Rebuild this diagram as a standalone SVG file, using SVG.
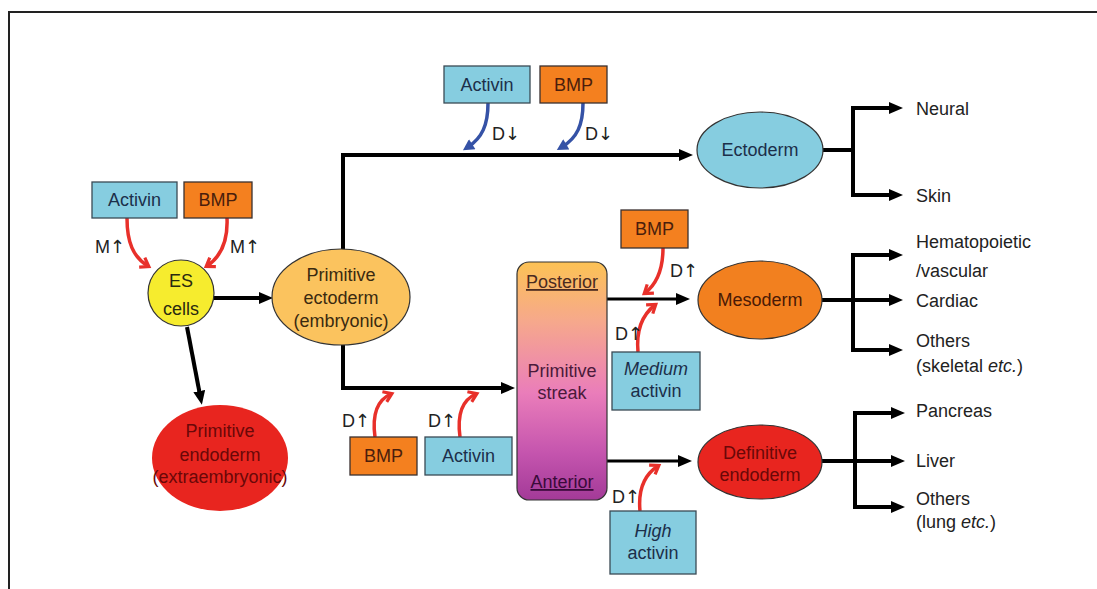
<svg xmlns="http://www.w3.org/2000/svg" width="1097" height="589" viewBox="0 0 1097 589">
<style>
text{font-family:"Liberation Sans",Arial,sans-serif;font-size:18px;}
.c{text-anchor:middle;}
.lbl{fill:#222;}
.ar{font-family:"DejaVu Sans",sans-serif;font-size:18px;}
.blue{fill:#86cde0;stroke:#3a4a55;stroke-width:1.3;}
.org{fill:#f4801f;stroke:#3a3030;stroke-width:1.3;}
.tb{fill:#1c2f4a;}
.to{fill:#4a1e0c;}
.blk{fill:none;stroke:#000;stroke-width:4;stroke-linejoin:miter;}
.ba{marker-end:url(#ah);}
.red{fill:none;stroke:#e8302a;stroke-width:3.5;marker-end:url(#rh);}
.bl{fill:none;stroke:#3552a6;stroke-width:3.5;marker-end:url(#bh);}
.edge{stroke:#333;stroke-width:1.2;}
</style>
<defs>
<marker id="ah" markerUnits="userSpaceOnUse" markerWidth="14" markerHeight="12" viewBox="0 0 14 12" refX="4" refY="6" orient="auto"><path d="M0,0 L14,6 L0,12 z" fill="#000"/></marker>
<marker id="rh" markerUnits="userSpaceOnUse" markerWidth="14" markerHeight="14" viewBox="0 0 14 14" refX="9" refY="7" orient="auto"><path d="M2,1.5 L10,7 L2,12.5" fill="none" stroke="#e8302a" stroke-width="3.2"/></marker>
<marker id="bh" markerUnits="userSpaceOnUse" markerWidth="12" markerHeight="12" viewBox="0 0 12 12" refX="6" refY="6" orient="auto"><path d="M1,0 L12,6 L1,12 z" fill="#3552a6"/></marker>
<linearGradient id="ps" x1="0" y1="0" x2="0" y2="1">
<stop offset="0" stop-color="#fcc255"/>
<stop offset="0.25" stop-color="#f6a88c"/>
<stop offset="0.55" stop-color="#ea7dba"/>
<stop offset="0.8" stop-color="#c555ae"/>
<stop offset="1" stop-color="#a33a98"/>
</linearGradient>
</defs>
<rect width="1097" height="589" fill="#fff"/>
<path d="M9,589 V12 H1097" fill="none" stroke="#222" stroke-width="2"/>

<g id="connectors">
<path class="blk ba" d="M213,298 H263"/>
<path class="blk ba" d="M187,327 L200,395"/>
<path class="blk ba" d="M343,250 V155 H683"/>
<path class="blk ba" d="M343,345 V388 H505"/>
<path class="blk" d="M823,150 H853"/>
<path class="blk ba" d="M853,150 V108 H893"/>
<path class="blk ba" d="M853,150 V195 H893"/>
<path class="blk ba" d="M822,300 H893"/>
<path class="blk ba" d="M853,300 V255 H893"/>
<path class="blk ba" d="M853,300 V350 H893"/>
<path class="blk ba" d="M822,461 H895"/>
<path class="blk ba" d="M855,461 V413 H895"/>
<path class="blk ba" d="M855,461 V507 H895"/>
<path class="blk ba" style="stroke-width:3" d="M607,299 H680"/>
<path class="blk ba" style="stroke-width:3" d="M607,461 H682"/>
<path class="red" d="M127,218 C127,242 133,257 148,266"/>
<path class="red" d="M227,218 C228,240 222,256 207,266"/>
<path class="red" d="M375,437 C372,415 377,400 391,394"/>
<path class="red" d="M460,437 C457,415 462,400 476,394"/>
<path class="red" d="M663,248 C663,268 658,283 645,293"/>
<path class="red" d="M638,352 C636,330 642,315 655,305"/>
<path class="red" d="M640,511 C638,490 644,475 658,466"/>
<path class="bl" d="M488,103 C488,125 482,138 468,147"/>
<path class="bl" d="M583,103 C583,125 577,138 562,147"/>
<text class="lbl" x="95" y="253">M<tspan class="ar">↑</tspan></text>
<text class="lbl" x="230" y="253">M<tspan class="ar">↑</tspan></text>
<text class="lbl" x="492" y="140">D<tspan class="ar">↓</tspan></text>
<text class="lbl" x="585" y="140">D<tspan class="ar">↓</tspan></text>
<text class="lbl" x="342" y="427">D<tspan class="ar">↑</tspan></text>
<text class="lbl" x="428" y="427">D<tspan class="ar">↑</tspan></text>
<text class="lbl" x="670" y="277">D<tspan class="ar">↑</tspan></text>
<text class="lbl" x="615" y="340">D<tspan class="ar">↑</tspan></text>
<text class="lbl" x="612" y="503">D<tspan class="ar">↑</tspan></text>
</g>

<g id="activin-tl"><rect class="blue" x="92" y="182" width="85" height="36"/><text class="c tb" x="134.5" y="206">Activin</text></g>
<g id="bmp-tl"><rect class="org" x="184" y="182" width="68" height="36"/><text class="c to" x="218" y="206">BMP</text></g>
<g id="activin-top"><rect class="blue" x="444" y="66" width="86" height="37"/><text class="c tb" x="487" y="91">Activin</text></g>
<g id="bmp-top"><rect class="org" x="540" y="66" width="67" height="37"/><text class="c to" x="573.5" y="91">BMP</text></g>
<g id="bmp-bottom"><rect class="org" x="350" y="437" width="67" height="38"/><text class="c to" x="383.5" y="462">BMP</text></g>
<g id="activin-bottom"><rect class="blue" x="425" y="437" width="87" height="38"/><text class="c tb" x="468.5" y="462">Activin</text></g>
<g id="bmp-mid"><rect class="org" x="621" y="210" width="67" height="38"/><text class="c to" x="654.5" y="235">BMP</text></g>
<g id="medium-activin"><rect class="blue" x="612" y="352" width="88" height="58"/><text class="c tb" x="656" y="375" font-style="italic">Medium</text><text class="c tb" x="656" y="397">activin</text></g>
<g id="high-activin"><rect class="blue" x="610" y="511" width="86" height="63"/><text class="c tb" x="653" y="537" font-style="italic">High</text><text class="c tb" x="653" y="559">activin</text></g>

<g id="es-cells"><circle class="edge" cx="181" cy="293" r="33" fill="#f6ec2e"/><text class="c" x="181" y="287" fill="#2a2a10" font-size="20">ES</text><text class="c" x="181" y="315" fill="#2a2a10" font-size="20">cells</text></g>
<g id="primitive-ectoderm"><ellipse class="edge" cx="341" cy="297" rx="69" ry="48" fill="#fbc35e"/><text class="c" x="341" y="281" fill="#3a2a10">Primitive</text><text class="c" x="341" y="304" fill="#3a2a10">ectoderm</text><text class="c" x="341" y="327" fill="#3a2a10">(embryonic)</text></g>
<g id="primitive-endoderm"><ellipse cx="220" cy="458" rx="68" ry="53" fill="#e8251f"/><text class="c" x="220" y="437" fill="#6a0808">Primitive</text><text class="c" x="220" y="461" fill="#6a0808">endoderm</text><text class="c" x="220" y="483" fill="#6a0808">(extraembryonic)</text></g>
<g id="primitive-streak"><rect class="edge" x="517" y="262" width="90" height="238" rx="12" fill="url(#ps)"/><text class="c" x="562" y="288" fill="#4a2a20" text-decoration="underline">Posterior</text><text class="c" x="562" y="377" fill="#4a1a3a">Primitive</text><text class="c" x="562" y="399" fill="#4a1a3a">streak</text><text class="c" x="562" y="488" fill="#3a0a3a" text-decoration="underline">Anterior</text></g>
<g id="ectoderm"><ellipse class="edge" cx="760" cy="150" rx="63" ry="38" fill="#86cde0"/><text class="c tb" x="760" y="156">Ectoderm</text></g>
<g id="mesoderm"><ellipse class="edge" cx="760" cy="300" rx="62" ry="39" fill="#f2801f"/><text class="c" x="760" y="306" fill="#4a1a05">Mesoderm</text></g>
<g id="definitive-endoderm"><ellipse class="edge" cx="760" cy="462" rx="62" ry="37" fill="#e8251f"/><text class="c" x="760" y="459" fill="#6a0808">Definitive</text><text class="c" x="760" y="481" fill="#6a0808">endoderm</text></g>

<g id="neural"><text class="lbl" x="916" y="115">Neural</text></g>
<g id="skin"><text class="lbl" x="916" y="202">Skin</text></g>
<g id="hematopoietic"><text class="lbl" x="916" y="248">Hematopoietic</text><text class="lbl" x="916" y="277">/vascular</text></g>
<g id="cardiac"><text class="lbl" x="916" y="307">Cardiac</text></g>
<g id="others-meso"><text class="lbl" x="916" y="347">Others</text><text class="lbl" x="916" y="372">(skeletal <tspan font-style="italic">etc.</tspan>)</text></g>
<g id="pancreas"><text class="lbl" x="916" y="417">Pancreas</text></g>
<g id="liver"><text class="lbl" x="916" y="467">Liver</text></g>
<g id="others-endo"><text class="lbl" x="916" y="505">Others</text><text class="lbl" x="916" y="528">(lung <tspan font-style="italic">etc.</tspan>)</text></g>
</svg>
